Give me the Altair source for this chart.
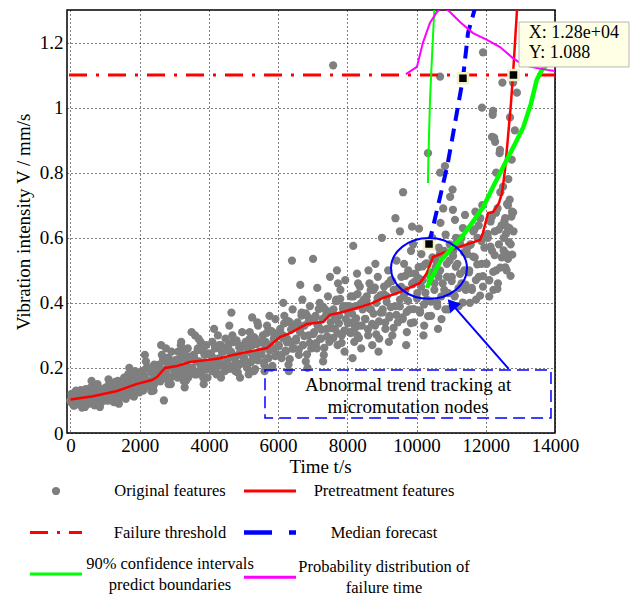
import altair as alt
import pandas as pd

# ------------------------------------------------------------------ data
# original features (grey scatter), time t [s] and vibration intensity V [mm/s]
feat_t = [
    0, 30, 60, 90, 120, 160, 200, 240, 280, 320, 360, 400, 440, 480, 50, 150, 260, 420,
    520, 550, 590, 630, 660, 700, 740, 780, 820, 860, 900, 940, 980, 610, 850,
    1020, 1050, 1090, 1130, 1170, 1210, 1250, 1290, 1330, 1370, 1410, 1450, 1490, 1100, 1400,
    1520, 1550, 1590, 1630, 1670, 1710, 1750, 1790, 1830, 1870, 1910, 1950, 1990, 1700, 1600,
    2020, 2060, 2100, 2140, 2180, 2220, 2260, 2300, 2340, 2380, 2420, 2460, 2500, 2150, 2400,
    2520, 2560, 2600, 2640, 2680, 2720, 2760, 2800, 2840, 2880, 2920, 2960, 3000, 2700, 2620, 2900,
    3030, 3070, 3110, 3150, 3190, 3230, 3270, 3310, 3350, 3390, 3430, 3470, 3300, 3500, 3200, 3400,
    3520, 3560, 3600, 3640, 3680, 3720, 3760, 3800, 3840, 3880, 3920, 3960, 3580, 3700, 3850,
    4020, 4060, 4100, 4140, 4180, 4220, 4260, 4300, 4340, 4380, 4420, 4460, 4150, 4350, 4480,
    4520, 4560, 4600, 4640, 4680, 4720, 4760, 4800, 4840, 4880, 4920, 4960, 4650, 4590, 4900,
    5020, 5060, 5100, 5140, 5180, 5220, 5260, 5300, 5340, 5380, 5420, 5460, 5250, 5150, 5400,
    5520, 5560, 5600, 5640, 5680, 5720, 5760, 5800, 5840, 5880, 5920, 5960, 5610, 5750, 5900,
    6020, 6060, 6100, 6140, 6180, 6220, 6260, 6300, 6340, 6380, 6420, 6460, 6400, 6150, 6310, 6480,
    6520, 6560, 6600, 6640, 6680, 6720, 6760, 6800, 6840, 6880, 6920, 6960, 6640, 6700, 6850, 6950,
    7010, 7040, 7080, 7120, 7160, 7200, 7240, 7280, 7320, 7360, 7400, 7440, 7480, 7130, 7300, 7450,
    7500, 7520, 7560, 7600, 7640, 7680, 7720, 7760, 7800, 7840, 7880, 7920, 7960, 7700, 7730, 7940, 7590,
    8020, 8060, 8100, 8140, 8170, 8200, 8240, 8280, 8320, 8360, 8400, 8440, 8480, 8290, 8310, 8150,
    8520, 8560, 8600, 8640, 8680, 8720, 8760, 8800, 8840, 8880, 8920, 8960, 8610, 8810, 8900,
    9020, 9060, 9100, 9140, 9180, 9220, 9260, 9300, 9340, 9380, 9420, 9460, 9000, 9390, 9200,
    9520, 9560, 9600, 9640, 9680, 9720, 9760, 9800, 9840, 9880, 9920, 9960, 9610, 9870, 9700, 9900, 9520,
    10020, 10060, 10100, 10140, 10180, 10220, 10260, 10300, 10340, 10380, 10420, 10460, 10070, 10330, 10200, 10450,
    10520, 10560, 10600, 10640, 10680, 10720, 10760, 10800, 10840, 10880, 10920, 10960, 10680, 10970, 10770, 10690, 10620, 10820, 10680,
    11020, 11060, 11100, 11140, 11180, 11220, 11260, 11300, 11340, 11380, 11420, 11460, 11050, 11110, 11040, 11400,
    11520, 11560, 11600, 11640, 11680, 11720, 11760, 11800, 11840, 11880, 11920, 11960, 11540, 11900, 11890, 11920, 11700,
    12020, 12060, 12100, 12140, 12180, 12220, 12260, 12300, 12340, 12380, 12420, 12460, 12210, 12270, 12410, 12240, 12500, 12300, 12200, 12180, 12400, 12100, 12350,
    12520, 12560, 12600, 12640, 12680, 12720, 12760, 12800, 12610, 12840, 12900, 12790, 12480, 12700, 12750, 12650, 12600,
]
feat_v = [
    0.10, 0.12, 0.09, 0.11, 0.085, 0.13, 0.10, 0.115, 0.095, 0.125, 0.09, 0.11, 0.135, 0.10, 0.105, 0.095, 0.12, 0.08,
    0.12, 0.09, 0.14, 0.105, 0.125, 0.085, 0.115, 0.15, 0.10, 0.13, 0.095, 0.12, 0.11, 0.16, 0.08,
    0.14, 0.10, 0.125, 0.155, 0.11, 0.135, 0.095, 0.145, 0.12, 0.16, 0.105, 0.13, 0.15, 0.165, 0.09,
    0.13, 0.17, 0.12, 0.155, 0.18, 0.135, 0.165, 0.115, 0.15, 0.19, 0.14, 0.17, 0.125, 0.20, 0.105,
    0.15, 0.19, 0.13, 0.175, 0.22, 0.145, 0.20, 0.16, 0.185, 0.14, 0.21, 0.17, 0.19, 0.24, 0.13,
    0.16, 0.21, 0.19, 0.24, 0.175, 0.22, 0.26, 0.20, 0.23, 0.17, 0.25, 0.21, 0.19, 0.10, 0.27, 0.15,
    0.22, 0.18, 0.25, 0.20, 0.27, 0.23, 0.16, 0.24, 0.21, 0.26, 0.19, 0.23, 0.14, 0.31, 0.28, 0.17,
    0.20, 0.24, 0.30, 0.18, 0.26, 0.22, 0.28, 0.19, 0.25, 0.21, 0.27, 0.17, 0.23, 0.29, 0.15,
    0.24, 0.20, 0.28, 0.22, 0.26, 0.18, 0.30, 0.23, 0.27, 0.21, 0.25, 0.19, 0.32, 0.17, 0.29,
    0.22, 0.27, 0.20, 0.25, 0.30, 0.23, 0.19, 0.28, 0.24, 0.21, 0.26, 0.31, 0.37, 0.33, 0.17,
    0.23, 0.28, 0.20, 0.26, 0.31, 0.22, 0.27, 0.19, 0.29, 0.24, 0.33, 0.25, 0.355, 0.18, 0.34,
    0.25, 0.30, 0.21, 0.28, 0.33, 0.23, 0.27, 0.20, 0.31, 0.26, 0.35, 0.24, 0.19, 0.36, 0.29,
    0.27, 0.32, 0.23, 0.30, 0.36, 0.25, 0.29, 0.21, 0.34, 0.28, 0.38, 0.26, 0.53, 0.40, 0.19, 0.33,
    0.29, 0.34, 0.24, 0.31, 0.37, 0.27, 0.33, 0.22, 0.36, 0.30, 0.39, 0.26, 0.455, 0.41, 0.20, 0.35,
    0.535, 0.31, 0.36, 0.26, 0.33, 0.40, 0.29, 0.35, 0.24, 0.38, 0.32, 0.42, 0.28, 0.446, 0.22, 0.37,
    0.48, 0.34, 0.29, 0.38, 0.32, 0.41, 0.27, 0.36, 0.44, 0.30, 0.39, 0.25, 0.35, 0.50, 0.46, 0.47, 1.13,
    0.37, 0.31, 0.42, 0.34, 0.575, 0.28, 0.39, 0.49, 0.33, 0.45, 0.26, 0.38, 0.41, 0.30, 0.46, 0.23,
    0.35, 0.42, 0.30, 0.46, 0.38, 0.27, 0.44, 0.33, 0.40, 0.48, 0.29, 0.37, 0.50, 0.52, 0.25,
    0.38, 0.45, 0.32, 0.42, 0.50, 0.36, 0.47, 0.30, 0.44, 0.39, 0.53, 0.34, 0.60, 0.66, 0.28,
    0.41, 0.48, 0.35, 0.52, 0.44, 0.31, 0.50, 0.38, 0.56, 0.46, 0.34, 0.49, 0.74, 0.634, 0.27, 0.58, 0.62,
    0.43, 0.51, 0.37, 0.55, 0.47, 0.33, 0.52, 0.41, 0.58, 0.49, 0.36, 0.54, 0.628, 0.86, 0.30, 0.60,
    0.46, 0.53, 0.39, 0.57, 0.50, 0.35, 0.55, 0.44, 0.61, 0.48, 0.38, 0.58, 0.80, 0.726, 0.69, 0.646, 0.32, 0.82, 1.095,
    0.48, 0.56, 0.42, 0.60, 0.52, 0.39, 0.58, 0.46, 0.63, 0.50, 0.44, 0.55, 0.686, 0.655, 0.748, 0.67,
    0.50, 0.58, 0.44, 0.62, 0.54, 0.41, 0.60, 0.48, 0.66, 0.52, 0.45, 0.57, 0.40, 0.70, 1.0, 1.17, 0.68,
    0.52, 0.60, 0.47, 0.65, 0.56, 0.44, 0.62, 0.50, 0.69, 0.58, 0.74, 0.54, 0.99, 0.895, 0.87, 0.908, 0.757, 0.80, 0.978, 0.91, 0.86, 0.42, 0.46,
    0.60, 0.66, 0.55, 0.70, 0.63, 0.58, 0.68, 0.62, 0.634, 0.93, 1.046, 1.077, 1.077, 0.97, 0.84, 0.78, 0.50,
]
# the dense core of the cloud (read segment by segment)
core_t = [
    15, 55, 95, 135, 175, 215, 255, 295, 335, 375, 415, 455,
    515, 555, 595, 635, 675, 715, 755, 795, 835, 875, 915, 955,
    1015, 1055, 1095, 1135, 1175, 1215, 1255, 1295, 1335, 1375, 1415, 1455,
    1515, 1555, 1595, 1635, 1675, 1715, 1755, 1795, 1835, 1875, 1915, 1955,
    2015, 2055, 2095, 2135, 2175, 2215, 2255, 2295, 2335, 2375, 2415, 2455,
    2515, 2555, 2595, 2635, 2675, 2715, 2755, 2795, 2835, 2875, 2915, 2955,
    3015, 3055, 3095, 3135, 3175, 3215, 3255, 3295, 3335, 3375, 3415, 3455,
    3515, 3555, 3595, 3635, 3675, 3715, 3755, 3795, 3835, 3875, 3915, 3955,
    4015, 4055, 4095, 4135, 4175, 4215, 4255, 4295, 4335, 4375, 4415, 4455,
    4515, 4555, 4595, 4635, 4675, 4715, 4755, 4795, 4835, 4875, 4915, 4955,
    5015, 5055, 5095, 5135, 5175, 5215, 5255, 5295, 5335, 5375, 5415, 5455,
    5515, 5555, 5595, 5635, 5675, 5715, 5755, 5795, 5835, 5875, 5915, 5955,
    6015, 6055, 6095, 6135, 6175, 6215, 6255, 6295, 6335, 6375, 6415, 6455,
    6515, 6555, 6595, 6635, 6675, 6715, 6755, 6795, 6835, 6875, 6915, 6955,
    7015, 7055, 7095, 7135, 7175, 7215, 7255, 7295, 7335, 7375, 7415, 7455,
    7515, 7555, 7595, 7635, 7675, 7715, 7755, 7795, 7835, 7875, 7915, 7955,
    8015, 8055, 8095, 8135, 8175, 8215, 8255, 8295, 8335, 8375, 8415, 8455,
    8515, 8555, 8595, 8635, 8675, 8715, 8755, 8795, 8835, 8875, 8915, 8955,
    9015, 9055, 9095, 9135, 9175, 9215, 9255, 9295, 9335, 9375, 9415, 9455,
    9515, 9555, 9595, 9635, 9675, 9715, 9755, 9795, 9835, 9875, 9915, 9955,
    10015, 10055, 10095, 10135, 10175, 10215, 10255, 10295, 10335, 10375, 10415, 10455,
    10515, 10555, 10595, 10635, 10675, 10715, 10755, 10795, 10835, 10875, 10915, 10955,
    11015, 11055, 11095, 11135, 11175, 11215, 11255, 11295, 11335, 11375, 11415, 11455,
    11515, 11555, 11595, 11635, 11675, 11715, 11755, 11795, 11835, 11875, 11915, 11955,
    12015, 12055, 12095, 12135, 12175, 12215, 12255, 12295, 12335, 12375, 12415, 12455,
    12515, 12540, 12565, 12590, 12615, 12640, 12665, 12690, 12715, 12740, 12765, 12790,
]
core_v = [
    0.096, 0.117, 0.084, 0.108, 0.129, 0.090, 0.102, 0.132, 0.078, 0.120, 0.093, 0.123,
    0.106, 0.127, 0.094, 0.118, 0.139, 0.100, 0.112, 0.142, 0.088, 0.130, 0.103, 0.133,
    0.115, 0.139, 0.100, 0.129, 0.153, 0.108, 0.122, 0.157, 0.094, 0.143, 0.111, 0.146,
    0.136, 0.164, 0.120, 0.152, 0.180, 0.128, 0.144, 0.184, 0.112, 0.168, 0.132, 0.172,
    0.153, 0.181, 0.137, 0.169, 0.197, 0.145, 0.161, 0.201, 0.129, 0.185, 0.149, 0.189,
    0.177, 0.208, 0.159, 0.195, 0.226, 0.168, 0.186, 0.231, 0.150, 0.213, 0.172, 0.217,
    0.190, 0.225, 0.170, 0.210, 0.245, 0.180, 0.200, 0.250, 0.160, 0.230, 0.185, 0.235,
    0.200, 0.235, 0.180, 0.220, 0.255, 0.190, 0.210, 0.260, 0.170, 0.240, 0.195, 0.245,
    0.210, 0.245, 0.190, 0.230, 0.265, 0.200, 0.220, 0.270, 0.180, 0.250, 0.205, 0.255,
    0.219, 0.257, 0.197, 0.241, 0.279, 0.208, 0.230, 0.285, 0.186, 0.263, 0.213, 0.268,
    0.229, 0.267, 0.207, 0.251, 0.289, 0.218, 0.240, 0.295, 0.196, 0.273, 0.223, 0.278,
    0.242, 0.284, 0.218, 0.266, 0.308, 0.230, 0.254, 0.314, 0.206, 0.290, 0.236, 0.296,
    0.266, 0.311, 0.240, 0.292, 0.337, 0.253, 0.279, 0.344, 0.227, 0.318, 0.259, 0.324,
    0.284, 0.333, 0.256, 0.312, 0.361, 0.270, 0.298, 0.368, 0.242, 0.340, 0.277, 0.347,
    0.304, 0.353, 0.276, 0.332, 0.381, 0.290, 0.318, 0.388, 0.262, 0.360, 0.297, 0.367,
    0.322, 0.375, 0.292, 0.352, 0.405, 0.307, 0.337, 0.412, 0.277, 0.382, 0.315, 0.390,
    0.337, 0.390, 0.307, 0.367, 0.420, 0.322, 0.352, 0.427, 0.292, 0.397, 0.330, 0.405,
    0.351, 0.407, 0.319, 0.383, 0.439, 0.335, 0.367, 0.447, 0.303, 0.415, 0.343, 0.423,
    0.371, 0.427, 0.339, 0.403, 0.459, 0.355, 0.387, 0.467, 0.323, 0.435, 0.363, 0.443,
    0.389, 0.449, 0.355, 0.423, 0.483, 0.372, 0.406, 0.491, 0.338, 0.457, 0.381, 0.466,
    0.413, 0.476, 0.377, 0.449, 0.512, 0.395, 0.431, 0.521, 0.359, 0.485, 0.404, 0.494,
    0.440, 0.510, 0.400, 0.480, 0.550, 0.420, 0.460, 0.560, 0.380, 0.520, 0.430, 0.530,
    0.467, 0.544, 0.423, 0.511, 0.588, 0.445, 0.489, 0.599, 0.401, 0.555, 0.456, 0.566,
    0.494, 0.578, 0.446, 0.542, 0.626, 0.470, 0.518, 0.638, 0.422, 0.590, 0.482, 0.602,
    0.521, 0.612, 0.469, 0.573, 0.664, 0.495, 0.547, 0.677, 0.443, 0.625, 0.508, 0.638,
    0.561, 0.652, 0.509, 0.613, 0.704, 0.535, 0.587, 0.717, 0.483, 0.665, 0.548, 0.678,
]

# pretreatment features (red)
pre_t = [0, 652, 1345, 1923, 2356, 2500, 2731, 3078, 3453, 3944, 4321, 4696, 5679, 6054,
         6343, 6834, 7296, 7499, 7874, 8365, 8741, 9030, 9521, 10099, 10301, 10475, 10966,
         11833, 11919, 12064, 12209, 12382, 12469, 12555, 12642, 12728, 12786, 12902, 12925]
pre_v = [0.103, 0.113, 0.129, 0.151, 0.163, 0.172, 0.200, 0.206, 0.218, 0.224, 0.230, 0.240, 0.261, 0.295,
         0.307, 0.335, 0.341, 0.363, 0.372, 0.387, 0.400, 0.415, 0.433, 0.461, 0.492, 0.541, 0.562,
         0.593, 0.615, 0.676, 0.679, 0.707, 0.738, 0.808, 0.910, 1.014, 1.100, 1.300, 1.360]

THRESHOLD = 1.1  # failure threshold

# median forecast (blue)
med_t = [10360, 10678, 10880, 11024, 11111, 11342, 11486, 11689, 11720]
med_v = [0.581, 0.725, 0.817, 0.900, 0.953, 1.091, 1.229, 1.306, 1.340]

# 90% confidence interval boundaries (green)
low_t = [10300, 10500, 10700, 10966, 11256, 11600, 11929, 12250, 12604, 12850, 13084, 13300, 13471, 13616, 13769]
low_v = [0.446, 0.490, 0.530, 0.562, 0.595, 0.645, 0.695, 0.765, 0.839, 0.890, 0.940, 1.010, 1.085, 1.115, 1.131]
up_t = [10300, 10388, 10330, 10340, 10388, 10455, 10513, 10525]
up_v = [0.446, 0.507, 0.768, 0.834, 1.023, 1.177, 1.300, 1.340]
up_seg = [1, 1, 2, 2, 2, 2, 2, 2]

# probability distribution of failure time (magenta)
pdf_t = [9692, 10010, 10183, 10386, 10588, 10762, 10966, 11255, 11631, 12036, 12412, 12787, 13076, 13481, 13770, 14059]
pdf_v = [1.103, 1.125, 1.199, 1.260, 1.294, 1.310, 1.294, 1.263, 1.229, 1.208, 1.186, 1.152, 1.131, 1.122, 1.116, 1.112]

# highlighted data points (black squares)
mark_t = [10360, 11340, 12800]
mark_v = [0.581, 1.090, 1.100]

# annotation
note_lines = ["Abnormal trend tracking at", "micromutation nodes"]
note_t = [9755, 9755]
note_v = [0.148, 0.080]
box_t = [5621, 13884]
box_v = [0.046, 0.194]
ell_t = [10360]
ell_v = [0.506]
arrow_t = [12662, 11015]
arrow_v = [0.197, 0.397]

# data tip
tip_lines = ["X: 1.28e+04", "Y: 1.088"]
tip_t = [13245, 13245]
tip_v = [1.228, 1.168]
tipbox_t = [12960, 16138]
tipbox_v = [1.125, 1.263]

# legend entries
leg_label = ["Original features", "Pretreatment features", "Failure threshold", "Median forecast",
             "90% confidence intervals\npredict boundaries", "Probability distribution of\nfailure time"]
leg_col = [0, 1, 0, 1, 0, 1]
leg_row = [1, 1, 2, 2, 3, 3.08]
leg_lines = [1, 1, 1, 1, 2, 2]
leg_color = ["#7f7f7f", "#ff0000", "#ff0000", "#0000ff", "#00ff00", "#ff00ff"]
leg_kind = ["point", "line", "line", "line", "line", "line"]
leg_dash = [[1, 0], [1, 0], [18, 9, 3, 9], [28, 17], [1, 0], [1, 0]]
leg_width = [0, 3, 3, 4.5, 3, 3]

# ------------------------------------------------------------------ chart
XS = alt.Scale(domain=[-100, 14000], nice=False, zero=False)
YS = alt.Scale(domain=[0, 1.3], nice=False, zero=True)
XA = alt.Axis(values=list(range(0, 14001, 2000)), format="d", title="Time t/s",
              labelPadding=3, titlePadding=2, titleX=253,
              labelOverlap=False, labelFlush=False, labelBound=False)
YA = alt.Axis(values=[0, 0.2, 0.4, 0.6, 0.8, 1.0, 1.2], labelExpr="format(datum.value, '~g')",
              title="Vibration intensity V / mm/s", labelPadding=4, titlePadding=6,
              labelOverlap=False, labelFlush=False)


def X(f="t"):
    return alt.X(f"{f}:Q", scale=XS, axis=XA)


def Y(f="v"):
    return alt.Y(f"{f}:Q", scale=YS, axis=YA)


scatter = alt.Chart(pd.DataFrame({"t": feat_t + core_t, "v": feat_v + core_v})).mark_circle(
    size=68, color="#7f7f7f", opacity=1).encode(x=X(), y=Y())

thr = alt.Chart(pd.DataFrame({"v": [THRESHOLD]})).mark_rule(
    color="#ff0000", strokeWidth=3, strokeDash=[18, 9, 3, 9]).encode(y=Y())

pre = alt.Chart(pd.DataFrame({"t": pre_t, "v": pre_v})).mark_line(
    color="#ff0000", strokeWidth=2.5, clip=True).encode(x=X(), y=Y(), order="t:Q")

low = alt.Chart(pd.DataFrame({"t": low_t, "v": low_v})).mark_line(
    color="#00ff00", strokeWidth=4.5, clip=True).encode(x=X(), y=Y())

up = alt.Chart(pd.DataFrame({"t": up_t, "v": up_v, "seg": up_seg})).mark_line(
    color="#00ff00", strokeWidth=2, clip=True).encode(x=X(), y=Y(), detail="seg:N", order="v:Q")

med = alt.Chart(pd.DataFrame({"t": med_t, "v": med_v})).mark_line(
    color="#0000ff", strokeWidth=4, strokeDash=[13, 8], clip=True).encode(x=X(), y=Y(), order="v:Q")

pdf = alt.Chart(pd.DataFrame({"t": pdf_t, "v": pdf_v})).mark_line(
    color="#ff00ff", strokeWidth=2, clip=True).encode(x=X(), y=Y())

squares = alt.Chart(pd.DataFrame({"t": mark_t, "v": mark_v})).mark_square(
    size=100, color="black", opacity=1, stroke="#f3efc4", strokeWidth=2.5).encode(x=X(), y=Y())

box = alt.Chart(pd.DataFrame({"t": [box_t[0]], "t2": [box_t[1]], "v": [box_v[0]], "v2": [box_v[1]]})).mark_rect(
    fill=None, stroke="#0000ff", strokeWidth=1.5, strokeDash=[12, 6]).encode(
    x=X(), x2="t2:Q", y=Y(), y2="v2:Q")

note = alt.Chart(pd.DataFrame({"t": note_t, "v": note_v, "s": note_lines})).mark_text(
    font="Liberation Serif", fontSize=19, color="black", align="center", baseline="middle").encode(
    x=X(), y=Y(), text="s:N")

ELLIPSE = "M -1 0 A 1 0.8 0 1 1 1 0 A 1 0.8 0 1 1 -1 0 Z"
ell = alt.Chart(pd.DataFrame({"t": ell_t, "v": ell_v})).mark_point(
    shape=ELLIPSE, size=5776, filled=False, color="#0000ff", strokeWidth=2, opacity=1).encode(x=X(), y=Y())

arrow = alt.Chart(pd.DataFrame({"t": [arrow_t[0]], "t2": [arrow_t[1]], "v": [arrow_v[0]], "v2": [arrow_v[1]]})).mark_rule(
    color="#0000ff", strokeWidth=2).encode(x=X(), x2="t2:Q", y=Y(), y2="v2:Q")

head = alt.Chart(pd.DataFrame({"t": [arrow_t[1]], "v": [arrow_v[1]]})).mark_point(
    shape="triangle-up", size=196, filled=True, color="#0000ff", opacity=1, angle=319).encode(x=X(), y=Y())

tipbox = alt.Chart(pd.DataFrame({"t": [tipbox_t[0]], "t2": [tipbox_t[1]], "v": [tipbox_v[0]], "v2": [tipbox_v[1]]})).mark_rect(
    fill="#ffffe6", stroke="#b8b8b0", strokeWidth=1).encode(x=X(), x2="t2:Q", y=Y(), y2="v2:Q")

tiptext = alt.Chart(pd.DataFrame({"t": tip_t, "v": tip_v, "s": tip_lines})).mark_text(
    font="Liberation Serif", fontSize=18, color="black", align="left", baseline="middle").encode(
    x=X(), y=Y(), text="s:N")

main = alt.layer(scatter, thr, pre, low, up, med, pdf, squares, box, note, ell, arrow, head, tipbox, tiptext)

# ---------------- legend panel (below the plot)
leg_df = pd.DataFrame({"label": leg_label, "col": leg_col, "row": leg_row, "c": leg_color,
                       "kind": leg_kind, "dash": leg_dash, "w": leg_width, "n": leg_lines})
LX = alt.Scale(domain=[0, 1], range=[-11, 203])
LY = alt.Scale(domain=[1, 3], range=[481, 564])
lbase = alt.Chart(leg_df).encode(
    x=alt.X("col:Q", scale=LX, axis=None),
    y=alt.Y("row:Q", scale=LY, axis=None),
)
leg_pt = lbase.transform_filter(alt.datum.kind == "point").mark_circle(size=68, opacity=1).encode(
    color=alt.Color("c:N", scale=None))
leg_ln = lbase.transform_filter(alt.datum.kind == "line").mark_rule(xOffset=-26, x2Offset=26).encode(
    x2="col:Q",
    color=alt.Color("c:N", scale=None),
    strokeDash=alt.StrokeDash("dash:N", scale=None),
    strokeWidth=alt.StrokeWidth("w:Q", scale=None),
)
TXT = dict(font="Liberation Serif", fontSize=16.5, color="black", align="center",
           baseline="middle", dx=114, lineBreak="\n", lineHeight=21)
leg_tx1 = lbase.transform_filter(alt.datum.n == 1).mark_text(**TXT).encode(text="label:N")
leg_tx2 = lbase.transform_filter(alt.datum.n == 2).mark_text(dy=-10.5, **TXT).encode(text="label:N")
legend = alt.layer(leg_pt, leg_ln, leg_tx1, leg_tx2)

chart = alt.layer(main, legend).resolve_scale(x="independent", y="independent").properties(
    width=488, height=423,
    background="white",
    autosize=alt.AutoSizeParams(type="none"),
    padding={"left": 67, "top": 10, "right": 83, "bottom": 166},
).configure_view(stroke="black", strokeWidth=1.5).configure_axis(
    grid=True, gridDash=[1, 3], gridColor="black", gridOpacity=1, gridWidth=1,
    domain=False, ticks=False,
    labelFont="Liberation Serif", labelFontSize=19, labelColor="black",
    titleFont="Liberation Serif", titleFontSize=19, titleFontWeight="normal", titleColor="black",
)

chart.save("out.html", embed_options={"renderer": "svg", "actions": False})
